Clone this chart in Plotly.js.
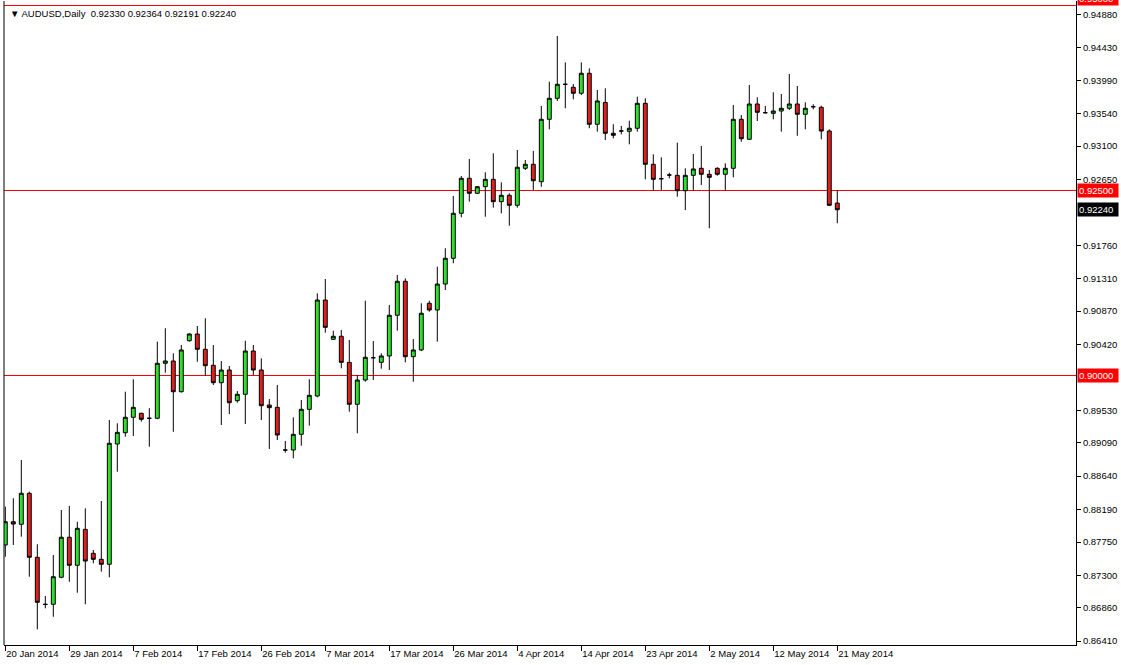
<!DOCTYPE html>
<html>
<head>
<meta charset="utf-8">
<script src="https://cdn.plot.ly/plotly-3.0.1.min.js"></script>
<style>html,body{margin:0;padding:0;background:#fff;}#chart{width:1121px;height:665px;}</style>
</head>
<body>
<div id="chart"></div>
<script>
// Trading days (broker feed includes Sunday bars)
const dates = [
"2014-01-20","2014-01-21","2014-01-22","2014-01-23","2014-01-24","2014-01-26","2014-01-27","2014-01-28","2014-01-29","2014-01-30",
"2014-01-31","2014-02-02","2014-02-03","2014-02-04","2014-02-05","2014-02-06","2014-02-07","2014-02-09","2014-02-10","2014-02-11",
"2014-02-12","2014-02-13","2014-02-14","2014-02-16","2014-02-17","2014-02-18","2014-02-19","2014-02-20","2014-02-21","2014-02-23",
"2014-02-24","2014-02-25","2014-02-26","2014-02-27","2014-02-28","2014-03-02","2014-03-03","2014-03-04","2014-03-05","2014-03-06",
"2014-03-07","2014-03-09","2014-03-10","2014-03-11","2014-03-12","2014-03-13","2014-03-14","2014-03-16","2014-03-17","2014-03-18",
"2014-03-19","2014-03-20","2014-03-21","2014-03-23","2014-03-24","2014-03-25","2014-03-26","2014-03-27","2014-03-28","2014-03-30",
"2014-03-31","2014-04-01","2014-04-02","2014-04-03","2014-04-04","2014-04-06","2014-04-07","2014-04-08","2014-04-09","2014-04-10",
"2014-04-11","2014-04-13","2014-04-14","2014-04-15","2014-04-16","2014-04-17","2014-04-18","2014-04-20","2014-04-21","2014-04-22",
"2014-04-23","2014-04-24","2014-04-25","2014-04-27","2014-04-28","2014-04-29","2014-04-30","2014-05-01","2014-05-02","2014-05-04",
"2014-05-05","2014-05-06","2014-05-07","2014-05-08","2014-05-09","2014-05-11","2014-05-12","2014-05-13","2014-05-14","2014-05-15",
"2014-05-16","2014-05-18","2014-05-19","2014-05-20","2014-05-21"
];

const openP = [
0.87709,0.88024,0.87989,0.88408,0.87543,0.86910,0.86908,0.87273,0.87814,0.87435,
0.87921,0.87597,0.87516,0.87449,0.89074,0.89227,0.89435,0.89489,0.89422,0.89422,
0.90165,0.90196,0.89781,0.90470,0.90561,0.90354,0.90138,0.89903,0.90074,0.89659,
0.89746,0.90331,0.90074,0.89601,0.89570,0.88993,0.88993,0.89205,0.89543,0.89723,
0.91020,0.90489,0.90530,0.90178,0.89611,0.89939,0.90240,0.90178,0.90264,0.90814,
0.91273,0.90254,0.90345,0.90976,0.90885,0.91236,0.91584,0.92192,0.92665,0.92462,
0.92551,0.92651,0.92349,0.92435,0.92300,0.92800,0.92854,0.92619,0.93462,0.93746,
0.93935,0.93895,0.93814,0.94084,0.93395,0.93690,0.93273,0.93304,0.93300,0.93341,
0.93678,0.92854,0.92659,0.92709,0.92705,0.92497,0.92705,0.92800,0.92719,0.92800,
0.92719,0.92800,0.93462,0.93192,0.93669,0.93551,0.93543,0.93574,0.93611,0.93669,
0.93530,0.93632,0.93624,0.93304,0.92330
];
const highP = [
0.88227,0.88341,0.88858,0.88430,0.87719,0.87020,0.87574,0.88182,0.88236,0.88024,
0.88205,0.87642,0.88304,0.89399,0.89354,0.89781,0.89949,0.89498,0.89557,0.90457,
0.90638,0.90300,0.90412,0.90570,0.90669,0.90773,0.90412,0.90196,0.90128,0.89790,
0.90470,0.90412,0.90232,0.89682,0.89872,0.89115,0.89435,0.89669,0.89949,0.91111,
0.91304,0.90605,0.90615,0.90480,0.90007,0.91011,0.90466,0.90300,0.90953,0.91358,
0.91313,0.90493,0.90976,0.91011,0.91470,0.91719,0.92426,0.92696,0.92926,0.92561,
0.92746,0.93003,0.92611,0.92462,0.93047,0.92912,0.93035,0.93642,0.93970,0.94588,
0.94232,0.93939,0.94232,0.94151,0.93858,0.93881,0.93395,0.93372,0.93443,0.93768,
0.93746,0.92989,0.92949,0.92740,0.93146,0.92800,0.92993,0.93101,0.92777,0.92814,
0.92868,0.93655,0.93520,0.93926,0.93760,0.93642,0.93827,0.93804,0.94074,0.93912,
0.93692,0.93665,0.93646,0.93327,0.92507
];
const lowP = [
0.87551,0.87709,0.87822,0.87281,0.86570,0.86854,0.86740,0.87260,0.87213,0.87065,
0.86908,0.87462,0.87349,0.87273,0.88700,0.89173,0.89182,0.89376,0.89038,0.89410,
0.90038,0.89240,0.89770,0.90457,0.90186,0.89993,0.89872,0.89331,0.89480,0.89632,
0.89345,0.90007,0.89399,0.89007,0.89128,0.88957,0.88881,0.89051,0.89322,0.89705,
0.90578,0.90480,0.90097,0.89511,0.89219,0.89916,0.89939,0.90092,0.90074,0.90605,
0.90178,0.89916,0.90330,0.90862,0.90457,0.91155,0.91516,0.92138,0.92349,0.92453,
0.92146,0.92268,0.92192,0.92024,0.92268,0.92777,0.92507,0.92550,0.93327,0.93710,
0.93611,0.93732,0.93791,0.93341,0.93295,0.93182,0.93205,0.93259,0.93124,0.93295,
0.92651,0.92497,0.92507,0.92665,0.92416,0.92236,0.92497,0.92574,0.91989,0.92700,
0.92497,0.92678,0.93159,0.93182,0.93439,0.93543,0.93462,0.93295,0.93588,0.93240,
0.93327,0.93597,0.93192,0.92290,0.92057
];
const closeP = [
0.88024,0.87993,0.88408,0.87543,0.86935,0.86905,0.87281,0.87814,0.87435,0.87935,
0.87493,0.87516,0.87449,0.89084,0.89232,0.89435,0.89570,0.89408,0.89422,0.90165,
0.90196,0.89781,0.90345,0.90561,0.90354,0.90132,0.89903,0.90074,0.89632,0.89746,
0.90331,0.90074,0.89592,0.89565,0.89196,0.88993,0.89205,0.89543,0.89732,0.91020,
0.90651,0.90530,0.90178,0.89611,0.89939,0.90246,0.90240,0.90264,0.90814,0.91273,
0.90254,0.90345,0.90841,0.90885,0.91236,0.91584,0.92192,0.92665,0.92462,0.92551,
0.92651,0.92349,0.92435,0.92300,0.92814,0.92854,0.92632,0.93462,0.93746,0.93935,
0.93935,0.93814,0.94084,0.93395,0.93710,0.93273,0.93246,0.93304,0.93341,0.93678,
0.92854,0.92651,0.92659,0.92709,0.92497,0.92705,0.92791,0.92719,0.92678,0.92719,
0.92800,0.93462,0.93200,0.93669,0.93557,0.93551,0.93574,0.93611,0.93669,0.93530,
0.93611,0.93632,0.93304,0.92300,0.92240
];

// x-axis labels (every 8 bars)
const tickDates = ["2014-01-20","2014-01-29","2014-02-07","2014-02-17","2014-02-26","2014-03-07","2014-03-17",
                   "2014-03-26","2014-04-04","2014-04-14","2014-04-23","2014-05-02","2014-05-12","2014-05-21"];
const tickLabels = ["20 Jan 2014","29 Jan 2014","7 Feb 2014","17 Feb 2014","26 Feb 2014","7 Mar 2014","17 Mar 2014",
                    "26 Mar 2014","4 Apr 2014","14 Apr 2014","23 Apr 2014","2 May 2014","12 May 2014","21 May 2014"];
// y-axis price ticks
const priceTicks = [0.94880,0.94430,0.93990,0.93540,0.93100,0.92650,0.91760,0.91310,0.90870,0.90420,
                    0.89530,0.89090,0.88640,0.88190,0.87750,0.87300,0.86860,0.86410];
// horizontal levels
const levels = [0.95000, 0.92500, 0.90000];
const lastPrice = 0.92240;
const headerText = "\u25BC AUDUSD,Daily  0.92330 0.92364 0.92191 0.92240";

const FONT = "Tahoma, 'Liberation Sans', Arial, sans-serif";

const trace = {
  type: 'candlestick',
  x: dates, open: openP, high: highP, low: lowP, close: closeP,
  increasing: {line: {color: '#000000', width: 1}, fillcolor: '#2fe02f'},
  decreasing: {line: {color: '#000000', width: 1}, fillcolor: '#e01f1f'},
  whiskerwidth: 0,
  hoverinfo: 'none',
  showlegend: false
};

const shapes = levels.map(v => ({
  type: 'line', xref: 'paper', x0: 0, x1: 1, yref: 'y', y0: v, y1: v,
  line: {color: '#ff0000', width: 1}, layer: 'below'
}));
// left frame line
shapes.push({type:'line', xref:'paper', yref:'paper', x0:0, x1:0, y0:0, y1:1, line:{color:'#000', width:1}});

const annotations = levels.map(v => ({
  xref: 'paper', x: 1, xanchor: 'left', xshift: 1,
  yref: 'y', y: v, yanchor: 'middle',
  yshift: v === 0.95 ? 7 : 0,
  text: v.toFixed(5), showarrow: false,
  bgcolor: '#ff0000', font: {family: FONT, size: 9.5, color: '#ffffff'},
  borderpad: 1, width: 38, align: 'left'
}));
annotations.push({
  xref: 'paper', x: 1, xanchor: 'left', xshift: 1,
  yref: 'y', y: lastPrice, yanchor: 'middle',
  text: lastPrice.toFixed(5), showarrow: false,
  bgcolor: '#000000', font: {family: FONT, size: 9.5, color: '#ffffff'},
  borderpad: 1, width: 38, align: 'left'
});
annotations.push({
  xref: 'paper', x: 0, xanchor: 'left', xshift: 4,
  yref: 'paper', y: 1, yanchor: 'top', yshift: -5,
  text: headerText, showarrow: false,
  font: {family: FONT, size: 9.5, color: '#000000'}
});

const layout = {
  width: 1121, height: 665,
  margin: {l: 4, r: 45, t: 1, b: 20, pad: 0},
  paper_bgcolor: '#ffffff', plot_bgcolor: '#ffffff',
  font: {family: FONT, size: 9.5, color: '#000000'},
  showlegend: false,
  xaxis: {
    type: 'category',
    range: [-0.1625, 133.84],
    rangeslider: {visible: false},
    tickmode: 'array', tickvals: tickDates, ticktext: tickLabels,
    ticks: 'outside', ticklen: 5, tickcolor: '#000', tickwidth: 1,
    ticklabelposition: 'outside right',
    showgrid: false, zeroline: false,
    showline: true, linecolor: '#000', linewidth: 1,
    tickfont: {family: FONT, size: 9.5, color: '#000'},
    fixedrange: true
  },
  yaxis: {
    side: 'right',
    range: [0.863581, 0.950608],
    tickmode: 'array', tickvals: priceTicks,
    tickformat: '.5f',
    ticks: 'outside', ticklen: 4, tickcolor: '#000', tickwidth: 1,
    showgrid: false, zeroline: false,
    showline: true, linecolor: '#000', linewidth: 1,
    tickfont: {family: FONT, size: 9.5, color: '#000'},
    fixedrange: true
  },
  shapes: shapes,
  annotations: annotations
};

Plotly.newPlot('chart', [trace], layout, {displayModeBar: false, staticPlot: true});
</script>
</body>
</html>
